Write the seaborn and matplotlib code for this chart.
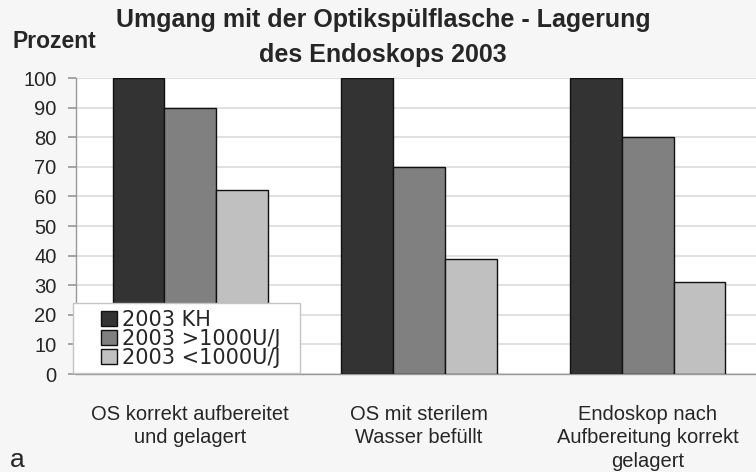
import matplotlib
matplotlib.use("Agg")
import matplotlib.pyplot as plt
from matplotlib.patches import Rectangle
import seaborn as sns
import pandas as pd

categories = ["OS korrekt aufbereitet\nund gelagert",
              "OS mit sterilem\nWasser befüllt",
              "Endoskop nach\nAufbereitung korrekt\ngelagert"]
series = ["2003 KH", "2003 >1000U/J", "2003 <1000U/J"]
kh = [100, 100, 100]
gross = [90, 70, 80]
klein = [62, 39, 31]
yticks = [0, 10, 20, 30, 40, 50, 60, 70, 80, 90, 100]
colors = ["#333333", "#808080", "#c0c0c0"]

rows = []
for s, vals in zip(series, [kh, gross, klein]):
    for c, v in zip(categories, vals):
        rows.append({"cat": c, "series": s, "val": v})
df = pd.DataFrame(rows)

sns.set_theme(style="white")
plt.rcParams["font.family"] = ["Liberation Sans", "DejaVu Sans"]

fig = plt.figure(figsize=(7.56, 4.72), dpi=100)
fig.patch.set_facecolor("#f6f6f6")
W, H = 756, 472
ax = fig.add_axes([76 / W, (H - 374) / H, 686 / W, (374 - 78) / H])
ax.set_facecolor("white")

sns.barplot(data=df, x="cat", y="val", hue="series", order=categories,
            hue_order=series, palette=colors, width=0.68,
            edgecolor="#111111", linewidth=1.0, saturation=1, ax=ax,
            legend=True, zorder=3)

ax.set_xlim(-0.5, 2.5)
ax.set_ylim(0, 100)
ax.set_yticks(yticks)
ax.set_yticklabels([str(t) for t in yticks], fontsize=14.5)
ax.yaxis.grid(True, color="#dcdcdc", linewidth=1.2, zorder=0)
ax.set_axisbelow(True)
ax.tick_params(axis="y", direction="out", length=6, color="#999999", pad=8, left=True)
ax.set_xticks(range(3))
ax.set_xticklabels(categories, fontsize=14.5, linespacing=1.3)
ax.tick_params(axis="x", length=0, pad=22)
ax.set_xticks([-0.5, 0.5, 1.5], minor=True)
ax.tick_params(axis="x", which="minor", direction="out", length=6, color="#999999")
ax.set_xlabel("")
ax.set_ylabel("")
for side in ["top", "right"]:
    ax.spines[side].set_visible(False)
for side in ["left", "bottom"]:
    ax.spines[side].set_color("#999999")
    ax.spines[side].set_linewidth(1.0)

handles, labels = ax.get_legend_handles_labels()
ax.legend_.remove()

box = Rectangle((73 / W, 1 - 373 / H), (300 - 73) / W, (373 - 303) / H,
                transform=fig.transFigure, facecolor="white",
                edgecolor="#c4c4c4", linewidth=1.0, zorder=4)
fig.add_artist(box)
leg = fig.legend(handles, labels, loc="center left",
                 bbox_to_anchor=(101 / W, 1 - 339 / H), bbox_transform=fig.transFigure,
                 prop={"family": "DejaVu Sans", "size": 15},
                 frameon=False, handlelength=0.75, handleheight=0.75,
                 handletextpad=0.25, labelspacing=-0.05, borderpad=0,
                 borderaxespad=0)
leg.set_zorder(10)

fig.text(383 / W, 1 - 20 / H, "Umgang mit der Optikspülflasche - Lagerung",
         ha="center", va="center", fontsize=18, fontweight="bold")
fig.text(383 / W, 1 - 55 / H, "des Endoskops 2003",
         ha="center", va="center", fontsize=18, fontweight="bold")
fig.text(12 / W, 1 - 41 / H, "Prozent", ha="left", va="center",
         fontsize=16.5, fontweight="bold")
fig.text(10 / W, 1 - 460 / H, "a", ha="left", va="center", fontsize=19)

fig.savefig("out.png", dpi=100, facecolor=fig.get_facecolor())
